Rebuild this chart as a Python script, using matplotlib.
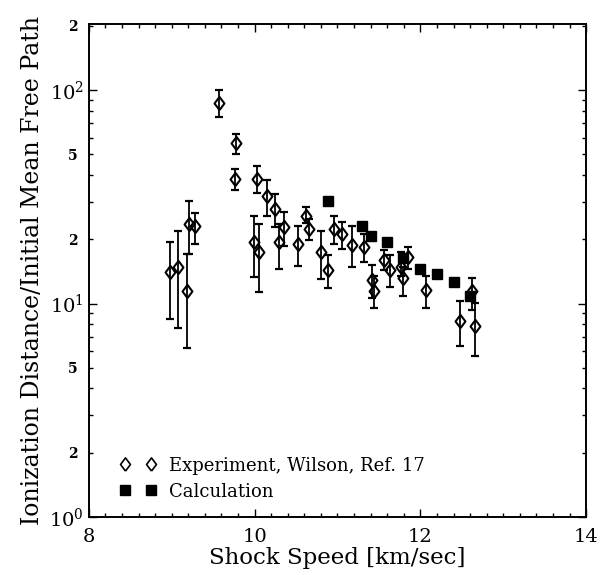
import numpy as np
import matplotlib
matplotlib.use("Agg")
import matplotlib.pyplot as plt
from matplotlib.ticker import FixedLocator, FuncFormatter, MultipleLocator, LogLocator
from matplotlib.lines import Line2D

# Experiment (Wilson, Ref. 17): shock speed, value, lower and upper error bounds
exp_x = [8.98, 9.08, 9.18, 9.21, 9.28, 9.57, 9.78, 9.76, 10.03, 10.15, 10.25, 9.99,
         10.05, 10.29, 10.35, 10.52, 10.62, 10.66, 10.80, 10.89, 10.96, 11.06, 11.18,
         11.32, 11.42, 11.44, 11.56, 11.63, 11.77, 11.79, 11.85, 12.07, 12.48, 12.62, 12.66]
exp_y = [14.0, 14.8, 11.5, 23.7, 23.0, 87.2, 56.4, 38.5, 38.5, 31.8, 27.6, 19.4,
         17.4, 19.4, 22.8, 19.1, 25.6, 22.4, 17.4, 14.4, 22.3, 21.2, 18.9,
         18.4, 12.9, 11.5, 16.0, 14.4, 14.8, 13.2, 16.5, 11.6, 8.32, 11.4, 7.88]
exp_lo = [8.5, 7.7, 6.2, 17.1, 19.0, 74.5, 50.4, 34.2, 33.0, 25.7, 22.8, 13.3,
          11.3, 14.6, 18.7, 15.0, 23.8, 19.8, 13.0, 11.8, 19.1, 18.0, 14.9,
          15.6, 10.6, 9.5, 14.3, 11.9, 13.5, 10.9, 14.6, 9.5, 6.33, 9.28, 5.70]
exp_hi = [19.4, 21.8, 17.0, 30.1, 26.7, 100.0, 62.1, 42.9, 44.0, 38.1, 32.5, 25.6,
          23.5, 23.7, 26.8, 23.1, 28.3, 24.8, 22.0, 16.9, 25.6, 24.0, 23.0,
          21.1, 15.2, 13.5, 17.9, 16.9, 17.4, 14.8, 18.4, 13.5, 10.3, 13.2, 10.1]

# Calculation
calc_x = [10.89, 11.30, 11.40, 11.60, 11.79, 12.00, 12.20, 12.40, 12.60]
calc_y = [30.1, 23.2, 20.8, 19.4, 16.3, 14.6, 13.7, 12.6, 10.8]

x_ticks = [8, 10, 12, 14]
y_major = [1, 10, 100]
y_major_labels = ["$10^{0}$", "$10^{1}$", "$10^{2}$"]

legend_labels = ["Experiment, Wilson, Ref. 17", "Calculation"]
xlabel = "Shock Speed [km/sec]"
ylabel = "Ionization Distance/Initial Mean Free Path"

plt.rcParams["font.family"] = ["DejaVu Serif"]
plt.rcParams["mathtext.fontset"] = "dejavuserif"

diamond = [(0, -1), (0.75, 0), (0, 1), (-0.75, 0), (0, -1)]

fig = plt.figure(figsize=(6.0, 5.75), dpi=100)
ax = fig.add_axes([0.148, 0.101, 0.829, 0.857])

ey = np.array(exp_y)
yerr = np.vstack([ey - np.array(exp_lo), np.array(exp_hi) - ey])
ax.errorbar(exp_x, exp_y, yerr=yerr, fmt="none", ecolor="black", elinewidth=1.3,
            capsize=2.7, capthick=1.6, zorder=3)
ax.plot(exp_x, exp_y, ls="none", marker=diamond, mfc="none", mec="black", mew=1.5,
        ms=9.5, zorder=3.5)
ax.plot(calc_x, calc_y, ls="none", marker="s", ms=7, color="black", zorder=4)

ax.set_xscale("linear")
ax.set_yscale("log")
ax.set_xlim(8, 14)
ax.set_ylim(1, 204)

ax.xaxis.set_major_locator(FixedLocator(x_ticks))
ax.xaxis.set_minor_locator(MultipleLocator(0.2))
ax.yaxis.set_major_locator(FixedLocator(y_major))
ax.yaxis.set_major_formatter(FuncFormatter(lambda v, p: y_major_labels[y_major.index(round(v))] if round(v) in y_major else ""))
ax.yaxis.set_minor_locator(LogLocator(base=10, subs=np.arange(2, 10)))


def minor_fmt(v, p):
    m = v / 10 ** np.floor(np.log10(v) + 1e-9)
    if abs(m - 2) < 1e-6:
        return "2"
    if abs(m - 5) < 1e-6:
        return "5"
    return ""


ax.yaxis.set_minor_formatter(FuncFormatter(minor_fmt))

ax.tick_params(which="both", direction="in", top=True, right=True, width=1.0)
ax.tick_params(which="major", length=6, labelsize=14)
ax.tick_params(which="minor", length=3)
ax.tick_params(axis="y", which="minor", labelsize=10, pad=8)
for lab in ax.yaxis.get_minorticklabels():
    lab.set_fontweight("bold")
ax.tick_params(axis="x", which="major", pad=8)

for s in ax.spines.values():
    s.set_linewidth(1.4)

ax.set_xlabel(xlabel, fontsize=16.5, labelpad=1)
ax.set_ylabel(ylabel, fontsize=17, labelpad=4)

h1 = Line2D([], [], ls="none", marker=diamond, mfc="none", mec="black", mew=1.2, ms=9.5)
h2 = Line2D([], [], ls="none", marker="s", color="black", ms=7)
ax.legend([h1, h2], legend_labels, numpoints=2, frameon=False, loc="lower left",
          bbox_to_anchor=(0.03, 0.0), fontsize=13, handlelength=2.0, handletextpad=0.7,
          labelspacing=0.45)

fig.savefig("out.png", dpi=100)
